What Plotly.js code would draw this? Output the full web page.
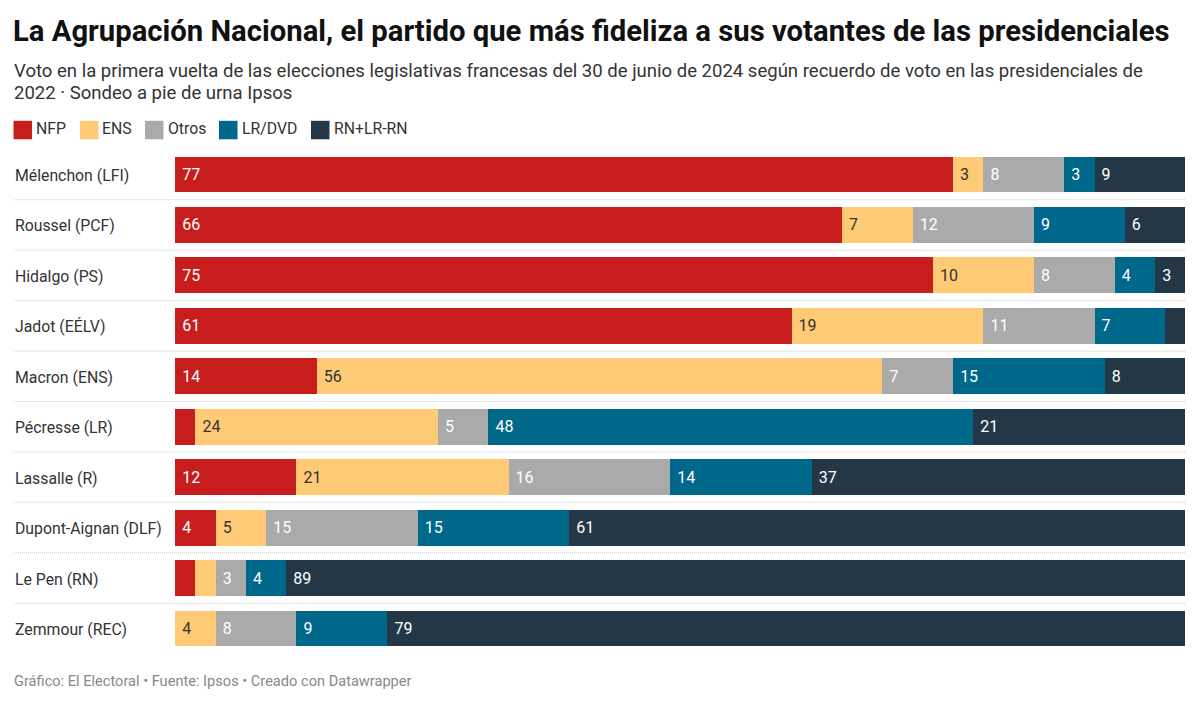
<!DOCTYPE html>
<html><head><meta charset="utf-8">
<script src="https://cdn.plot.ly/plotly-3.0.1.min.js"></script>
<style>html,body{margin:0;padding:0;background:#fff}</style></head>
<body><div id="chart" style="width:1200px;height:705px"></div>
<script>
const categories = ["Mélenchon (LFI)","Roussel (PCF)","Hidalgo (PS)","Jadot (EÉLV)","Macron (ENS)","Pécresse (LR)","Lassalle (R)","Dupont-Aignan (DLF)","Le Pen (RN)","Zemmour (REC)"];
const seriesNames = ["NFP","ENS","Otros","LR/DVD","RN+LR-RN"];
const seriesColors = ["#c71e1d","#ffca76","#aaaaaa","#00688b","#243746"];
const labelColors = ["#ffffff","#333333","#ffffff","#ffffff","#ffffff"];
const NFP   = [77,66,75,61,14,2,12,4,2,0];
const ENS   = [3,7,10,19,56,24,21,5,2,4];
const Otros = [8,12,8,11,7,5,16,15,3,8];
const LRDVD = [3,9,4,7,15,48,14,15,4,9];
const RNLR  = [9,6,3,2,8,21,37,61,89,79];
const seriesValues = [NFP,ENS,Otros,LRDVD,RNLR];
const titleText = "La Agrupación Nacional, el partido que más fideliza a sus votantes de las presidenciales";
const subtitleLines = ["Voto en la primera vuelta de las elecciones legislativas francesas del 30 de junio de 2024 según recuerdo de voto en las presidenciales de","2022 · Sondeo a pie de urna Ipsos"];
const sourceText = "Gráfico: El Electoral • Fuente: Ipsos • Creado con Datawrapper";

const L=175,R=1185,T=149,B=654;
const px=x=>(x-L)/(R-L), py=y=>(B-y)/(B-T);
const FONT="Roboto, sans-serif";

const traces = seriesNames.map((n,i)=>({
  type:"bar",orientation:"h",name:n,y:categories,x:seriesValues[i],
  marker:{color:seriesColors[i],line:{width:0}},
  text:seriesValues[i].map(v=>v>2?"\u00a0"+v:""),
  textposition:"inside",insidetextanchor:"start",textangle:0,constraintext:"none",
  textfont:{family:FONT,size:16,color:labelColors[i]},
  hoverinfo:"name+x+y",showlegend:false
}));

const shapes=[], annotations=[];
categories.forEach((c,i)=>{
  annotations.push({xref:"paper",yref:"y",x:px(12.5),y:c,text:c,showarrow:false,xanchor:"left",yanchor:"middle",yshift:-1,
    font:{family:FONT,size:15.8,color:"#333333"}});
  if(i<categories.length-1) shapes.push({type:"line",xref:"paper",yref:"y",x0:px(14),x1:1,y0:i+0.5,y1:i+0.5,
    line:{color:"#cccccc",width:1,dash:"1px,1px"}});
});
const swatchX=[13.5,80,145,219,311], labelX=[35,101,167,241,333];
seriesNames.forEach((n,i)=>{
  shapes.push({type:"rect",xref:"paper",yref:"paper",x0:px(swatchX[i]),x1:px(swatchX[i]+18.5),y0:py(139.3),y1:py(120.8),
    fillcolor:seriesColors[i],line:{width:0}});
  annotations.push({xref:"paper",yref:"paper",x:px(labelX[i]),y:py(129),text:n,showarrow:false,xanchor:"left",yanchor:"middle",
    xshift:-1,font:{family:FONT,size:15.8,color:"#333333"}});
});
subtitleLines.forEach((t,i)=>annotations.push({xref:"paper",yref:"paper",x:px(12),y:py(71+i*22.4),text:t,showarrow:false,xanchor:"left",yanchor:"middle",
  font:{family:FONT,size:18.55,color:"#333333"}}));
annotations.push({xref:"paper",yref:"paper",x:px(12),y:py(681),text:sourceText,showarrow:false,xanchor:"left",yanchor:"middle",
  font:{family:FONT,size:14.6,color:"#888888"}});

Plotly.newPlot("chart",traces,{
  width:1200,height:705,barmode:"stack",bargap:0.29,
  paper_bgcolor:"#fff",plot_bgcolor:"#fff",
  margin:{l:L,r:1200-R,t:T,b:705-B,pad:0},
  title:{text:titleText,x:13/1200,xanchor:"left",xref:"container",y:1-31/705,yanchor:"middle",
    font:{family:FONT,size:29.25,weight:700,color:"#111111"}},
  xaxis:{range:[-0.025,99.95],visible:false,fixedrange:true},
  yaxis:{type:"category",categoryorder:"array",categoryarray:categories,range:[9.506,-0.5056],showticklabels:false,showgrid:false,zeroline:false,showline:false,ticks:"",fixedrange:true},
  showlegend:false,shapes,annotations,font:{family:FONT}
},{displayModeBar:false});
</script></body></html>
